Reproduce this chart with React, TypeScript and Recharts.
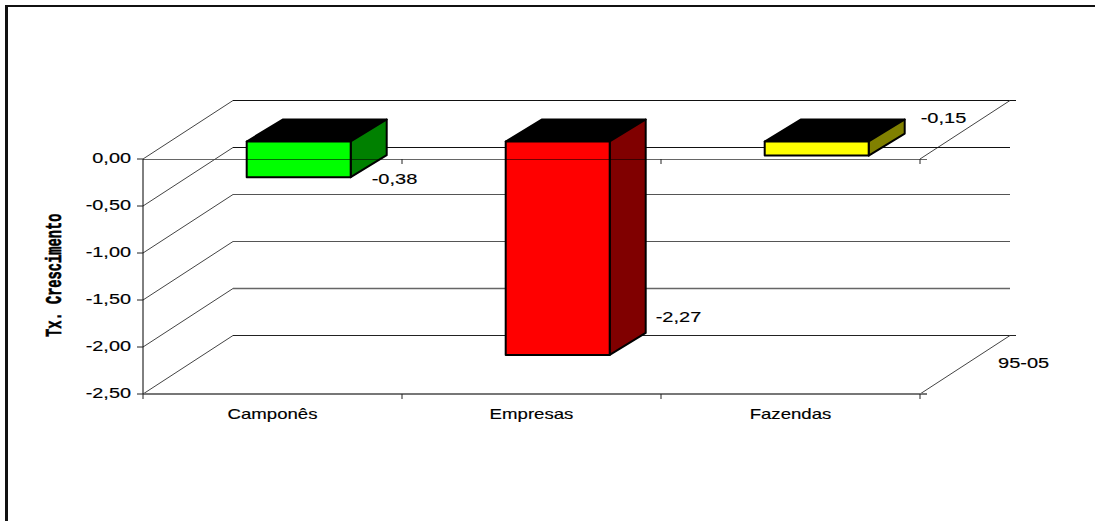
import React from 'react';
import { BarChart, Bar, XAxis, YAxis, CartesianGrid, LabelList } from 'recharts';

const categories = ['Camponês', 'Empresas', 'Fazendas'];
const values = [-0.38, -2.27, -0.15];
const frontColors = ['#00FF00', '#FF0000', '#FFFF00'];
const sideColors = ['#008000', '#800000', '#808000'];
const yTicks = [0, -0.5, -1, -1.5, -2, -2.5];
const seriesName = '95-05';
const axisTitle = 'Tx. Crescimento';

const gridColors = ['#111', '#111', '#555', '#555', '#666', '#222'];
const gridWidths = [1, 1, 1, 1, 1.6, 1];
const labelOffsets = [[21, 7], [46, -33], [52, -33]];

const data = categories.map((name, i) => ({
  name,
  value: values[i],
  front: frontColors[i],
  side: sideColors[i],
}));

const WIDTH = 1095;
const HEIGHT = 521;
const PLOT_LEFT = 143;
const PLOT_RIGHT = 920;
const PLOT_TOP = 159;
const PLOT_BOTTOM = 394;
const Y_AXIS_W = 60;
const X_AXIS_H = 30;
const WALL_DX = 90;
const WALL_DY = -59;
const BAR_OX = 26;
const BAR_OY = -17.5;
const BAR_DX = 36;
const BAR_DY = -22;
const FONT = '"Liberation Sans", Arial, sans-serif';

const fmt = (v: number) => v.toFixed(2).replace('.', ',');

function Wide({ x, y, text, sx, anchor = 'start' }: any) {
  return (
    <text
      transform={`translate(${x} ${y}) scale(${sx} 1)`}
      textAnchor={anchor}
      fontFamily={FONT}
      fontSize={14}
      fill="#000"
      stroke="#000"
      strokeWidth={0.15}
    >
      {text}
    </text>
  );
}

function Box3D(props: any) {
  const { x, y, width, height, payload } = props;
  const y0 = Math.min(y, y + height);
  const top = y0 + BAR_OY;
  const h = Math.abs(height);
  const l = x + BAR_OX;
  const r = l + width;
  const b = top + h;
  const common = { stroke: '#000', strokeWidth: 2, strokeLinejoin: 'round' as const };
  const crosses = y0 < b;
  const zeroEnd = r + Math.min(BAR_DX, (BAR_DX * (b - y0)) / -BAR_DY);
  return (
    <g>
      <polygon
        points={`${l},${top} ${l + BAR_DX},${top + BAR_DY} ${r + BAR_DX},${top + BAR_DY} ${r},${top}`}
        fill="#000"
        {...common}
      />
      <polygon
        points={`${r},${top} ${r + BAR_DX},${top + BAR_DY} ${r + BAR_DX},${b + BAR_DY} ${r},${b}`}
        fill={payload.side}
        {...common}
      />
      <rect x={l} y={top} width={width} height={h} fill={payload.front} {...common} />
      {crosses && <line x1={l} y1={y0 + 0.5} x2={zeroEnd} y2={y0 + 0.5} stroke="#000" strokeOpacity={0.55} strokeWidth={1} />}
    </g>
  );
}

function WallLine(props: any) {
  const { x1, y1, x2, index } = props;
  const last = yTicks.length - 1;
  const edge = index === 0 || index === last;
  const color = gridColors[index] ?? '#666';
  const sw = gridWidths[index] ?? 1;
  const by = y1 + WALL_DY + 0.5;
  return (
    <g key={props.key}>
      <line x1={x1} y1={y1} x2={x1 + WALL_DX} y2={by} stroke="#444" strokeWidth={1} />
      <line
        x1={x1 + WALL_DX}
        y1={by}
        x2={x2 + WALL_DX + (edge ? 6 : 0)}
        y2={by}
        stroke={color}
        strokeWidth={sw}
      />
      {edge && <line x1={x2} y1={y1} x2={x2 + WALL_DX} y2={by} stroke="#444" strokeWidth={1} />}
      {index === 0 && <line x1={x1} y1={y1 + 0.5} x2={x2 + 7} y2={y1 + 0.5} stroke="#666" strokeWidth={1} />}
      {index === last && <line x1={x2} y1={y1} x2={x2 + 7} y2={y1} stroke="#777" strokeWidth={2} />}
      {index === last && <Wide x={x2 + 78} y={y1 - 26} text={seriesName} sx={1.43} />}
    </g>
  );
}

function CategoryTick(props: any) {
  const { x, y, payload, index, width } = props;
  const half = width / categories.length / 2;
  const edges = index === 0 ? [x - half, x + half] : [x + half];
  return (
    <g>
      {edges.map((ex: number) => (
        <g key={ex}>
          <line x1={ex} y1={PLOT_BOTTOM} x2={ex} y2={PLOT_BOTTOM + 5} stroke="#222" />
          {ex > PLOT_LEFT + 1 && (
            <line x1={ex} y1={PLOT_TOP} x2={ex} y2={PLOT_TOP + 5} stroke="#222" />
          )}
        </g>
      ))}
      <Wide x={x} y={y + 20} text={payload.value} sx={1.33} anchor="middle" />
    </g>
  );
}

function ValueTick(props: any) {
  const { x, y, payload } = props;
  return <Wide x={x - 6} y={y + 4} text={fmt(payload.value)} sx={1.42} anchor="end" />;
}

function ValueLabel(props: any) {
  const { x, y, width, height, value, index } = props;
  const bottom = Math.max(y, y + height) + BAR_OY;
  const [dx, dy] = labelOffsets[index];
  return <Wide x={x + width + BAR_OX + dx} y={bottom + dy} text={fmt(value)} sx={1.43} />;
}

function TitleLabel() {
  return (
    <text
      transform="translate(61 337) rotate(-90) scale(0.98 1.6)"
      fontFamily='"Liberation Mono", monospace'
      fontWeight="bold"
      fontSize={14}
      fill="#000"
      stroke="#000"
      strokeWidth={0.4}
    >
      {axisTitle}
    </text>
  );
}

export default function App() {
  return (
    <div style={{ position: 'absolute', left: 0, top: 0, width: WIDTH, height: HEIGHT, background: '#fff', overflow: 'hidden' }}>
      <div
        style={{
          position: 'absolute',
          left: 5,
          top: 5,
          right: 0,
          bottom: 0,
          borderTop: '2px solid #111',
          borderLeft: '3px solid #111',
        }}
      />
      <div style={{ position: 'absolute', left: 0, top: 0 }}>
        <BarChart
          width={WIDTH}
          height={HEIGHT}
          data={data}
          barCategoryGap="30%"
          margin={{
            left: PLOT_LEFT - Y_AXIS_W,
            right: WIDTH - PLOT_RIGHT,
            top: PLOT_TOP,
            bottom: HEIGHT - PLOT_BOTTOM - X_AXIS_H,
          }}
        >
          <CartesianGrid vertical={false} horizontal={WallLine as any} />
          <XAxis
            dataKey="name"
            height={X_AXIS_H}
            tickLine={false}
            tickSize={5}
            tickMargin={0}
            interval={0}
            axisLine={{ stroke: '#777', strokeWidth: 2 }}
            tick={<CategoryTick />}
          />
          <YAxis
            width={Y_AXIS_W}
            domain={[-2.5, 0]}
            ticks={yTicks}
            tickSize={6}
            tickMargin={0}
            interval={0}
            axisLine={{ stroke: '#000', strokeWidth: 1 }}
            tickLine={{ stroke: '#222' }}
            tick={<ValueTick />}
            label={{ content: <TitleLabel /> } as any}
          />
          <Bar dataKey="value" name={seriesName} isAnimationActive={false} shape={<Box3D />}>
            <LabelList dataKey="value" content={<ValueLabel />} />
          </Bar>
        </BarChart>
      </div>
    </div>
  );
}
